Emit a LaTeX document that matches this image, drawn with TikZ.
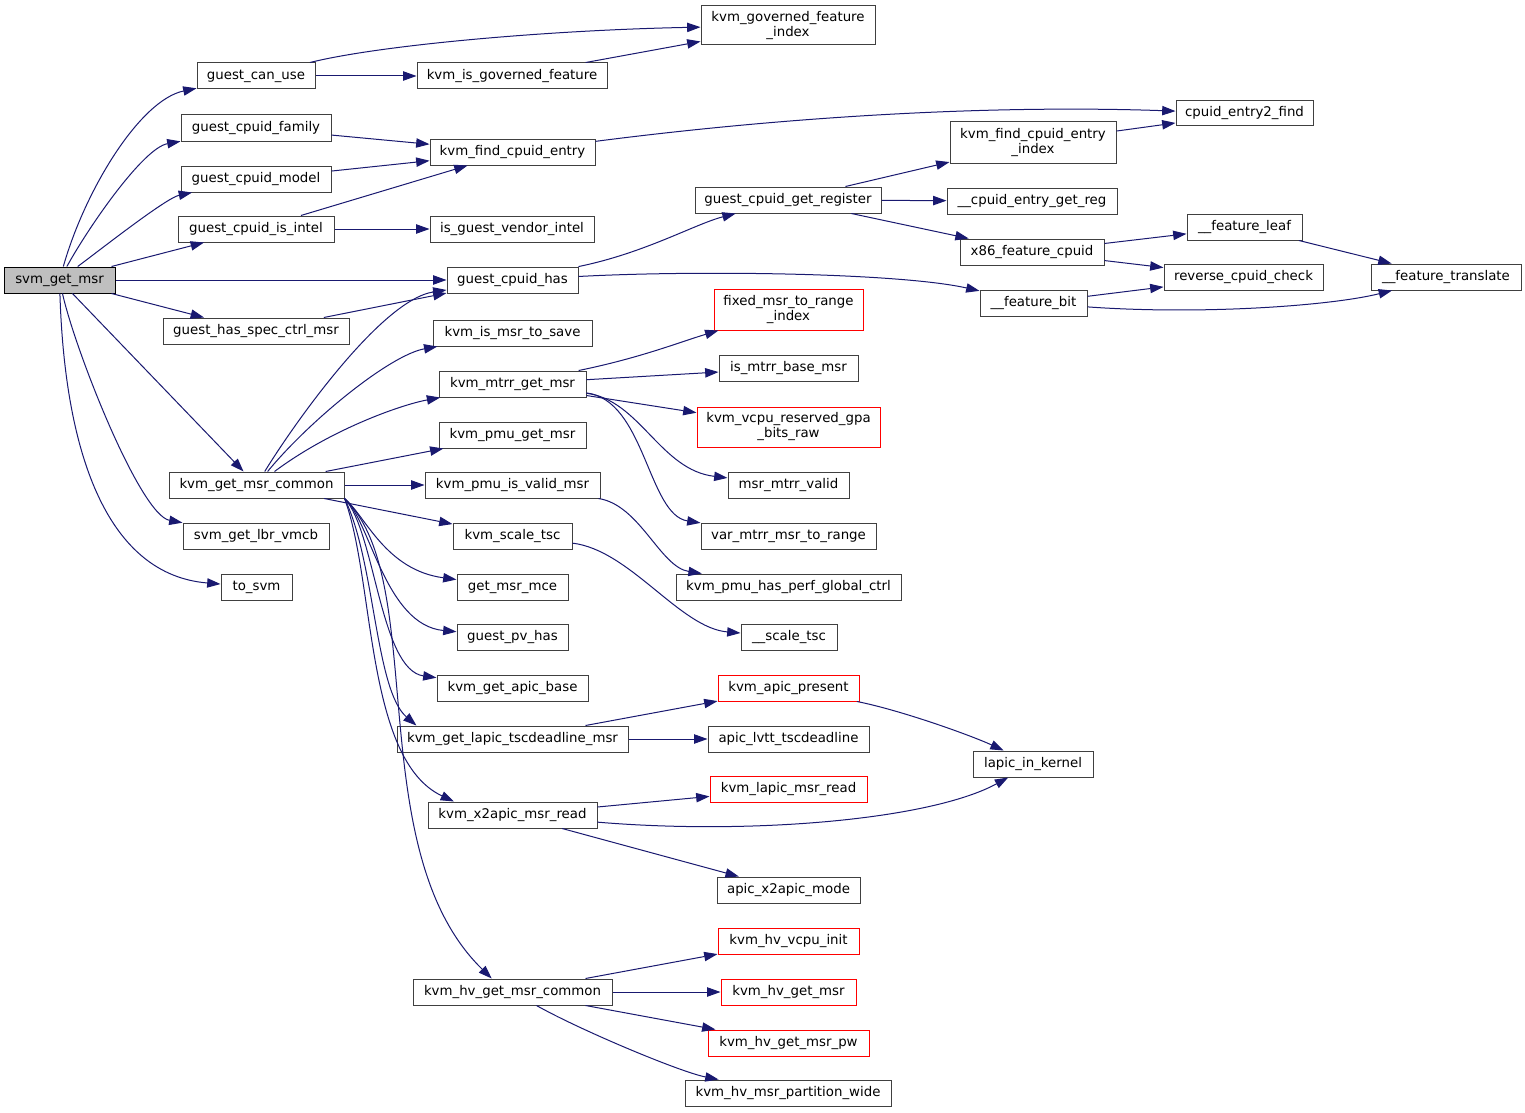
\documentclass[tikz,border=0pt]{standalone}
\usepackage{fontspec}
\setmainfont{DejaVu Sans}
\usetikzlibrary{arrows.meta}
\definecolor{navy}{HTML}{191970}
\definecolor{grey25}{HTML}{404040}
\definecolor{grey75}{HTML}{BFBFBF}
\newcommand\bx[7][]{\node[box,#1,minimum width={(#5-#3)*0.75pt},minimum height={(#6-#4)*0.75pt}] (#2) at ({(#3+#5)/2},{(#4+#6)/2}) {#7};}
\begin{document}
\begin{tikzpicture}[x=0.75pt,y=-0.75pt,
 box/.style={draw=grey25,fill=white,line width=0.75pt,inner sep=0pt,align=center,font=\fontsize{10}{11.25}\selectfont},
 trunc/.style={draw=red},
 root/.style={fill=grey75,draw=black},
 arr/.style={draw=navy,line width=0.75pt,-{Triangle[length=10pt,width=7pt]}}]
\fill[white] (0,0) rectangle (1525,1113);
\useasboundingbox (0,0) rectangle (1525,1113);
% nodes
\bx[root]{svm}{4}{267}{115}{293}{svm\_get\_msr}
\bx{gcu}{197}{63}{315}{89}{guest\_can\_use}
\bx{kgfi}{701}{6}{875}{45}{kvm\_governed\_feature\\\_index}
\bx{kigf}{417}{63}{607}{89}{kvm\_is\_governed\_feature}
\bx{gcf}{181}{115}{331}{141}{guest\_cpuid\_family}
\bx{kfce}{430}{139}{595}{165}{kvm\_find\_cpuid\_entry}
\bx{ce2f}{1176}{101}{1313}{126}{cpuid\_entry2\_find}
\bx{gcm}{181}{166}{331}{192}{guest\_cpuid\_model}
\bx{gcii}{178}{216}{334}{242}{guest\_cpuid\_is\_intel}
\bx{igvi}{430}{216}{594}{242}{is\_guest\_vendor\_intel}
\bx{kfcei}{950}{122}{1116}{163}{kvm\_find\_cpuid\_entry\\\_index}
\bx{gcgr}{695}{187}{881}{213}{guest\_cpuid\_get\_register}
\bx{cegr}{947}{188}{1117}{214}{\_\_cpuid\_entry\_get\_reg}
\bx{fl}{1187}{214}{1302}{240}{\_\_feature\_leaf}
\bx{xfc}{960}{239}{1104}{265}{x86\_feature\_cpuid}
\bx{rcc}{1164}{264}{1323}{290}{reverse\_cpuid\_check}
\bx{ft}{1371}{264}{1521}{290}{\_\_feature\_translate}
\bx{gch}{447}{267}{578}{293}{guest\_cpuid\_has}
\bx{fb}{980}{290}{1087}{316}{\_\_feature\_bit}
\bx{ghscm}{163}{318}{349}{344}{guest\_has\_spec\_ctrl\_msr}
\bx{kims}{433}{320}{592}{346}{kvm\_is\_msr\_to\_save}
\bx[trunc]{fmtri}{714}{289}{863}{330}{fixed\_msr\_to\_range\\\_index}
\bx{imbm}{719}{355}{858}{381}{is\_mtrr\_base\_msr}
\bx{kmgm}{439}{371}{586}{397}{kvm\_mtrr\_get\_msr}
\bx[trunc]{kvrgbr}{697}{407}{880}{447}{kvm\_vcpu\_reserved\_gpa\\\_bits\_raw}
\bx{kpgm}{439}{422}{586}{448}{kvm\_pmu\_get\_msr}
\bx{kgmc}{169}{472}{344}{498}{kvm\_get\_msr\_common}
\bx{kpivm}{425}{472}{600}{498}{kvm\_pmu\_is\_valid\_msr}
\bx{mmv}{728}{472}{849}{498}{msr\_mtrr\_valid}
\bx{sglv}{183}{523}{329}{549}{svm\_get\_lbr\_vmcb}
\bx{kst}{453}{523}{572}{549}{kvm\_scale\_tsc}
\bx{vmmtr}{701}{523}{876}{549}{var\_mtrr\_msr\_to\_range}
\bx{kphpgc}{676}{574}{901}{600}{kvm\_pmu\_has\_perf\_global\_ctrl}
\bx{tosvm}{221}{574}{292}{600}{to\_svm}
\bx{gmm}{457}{574}{568}{600}{get\_msr\_mce}
\bx{st}{741}{624}{837}{650}{\_\_scale\_tsc}
\bx{gpvh}{457}{624}{568}{650}{guest\_pv\_has}
\bx{kgab}{437}{675}{588}{701}{kvm\_get\_apic\_base}
\bx[trunc]{kap}{718}{675}{859}{701}{kvm\_apic\_present}
\bx{kgltm}{397}{726}{628}{752}{kvm\_get\_lapic\_tscdeadline\_msr}
\bx{alt}{708}{726}{869}{752}{apic\_lvtt\_tscdeadline}
\bx{lik}{973}{751}{1093}{777}{lapic\_in\_kernel}
\bx[trunc]{klmr}{710}{776}{867}{802}{kvm\_lapic\_msr\_read}
\bx{kx2mr}{428}{802}{597}{828}{kvm\_x2apic\_msr\_read}
\bx{axm}{717}{877}{860}{903}{apic\_x2apic\_mode}
\bx[trunc]{khvi}{718}{928}{859}{954}{kvm\_hv\_vcpu\_init}
\bx{khgmc}{413}{979}{612}{1005}{kvm\_hv\_get\_msr\_common}
\bx[trunc]{khgm}{721}{979}{856}{1005}{kvm\_hv\_get\_msr}
\bx[trunc]{khgmp}{708}{1030}{869}{1056}{kvm\_hv\_get\_msr\_pw}
\bx{khmpw}{685}{1080}{891}{1106}{kvm\_hv\_msr\_partition\_wide}
% edges
\draw[arr] (svm) .. controls (85,190) and (140,100) .. (gcu);
\draw[arr] (svm) .. controls (88,228) and (143,148) .. (gcf);
\draw[arr] (svm) .. controls (100,250) and (166,198) .. (gcm);
\draw[arr] (svm) -- (gcii);
\draw[arr] (svm) -- (gch);
\draw[arr] (svm) -- (ghscm);
\draw[arr] (svm) -- (kgmc);
\draw[arr] (svm) .. controls (75,350) and (140,515) .. (sglv);
\draw[arr] (svm) .. controls (65,460) and (110,575) .. (tosvm);
\draw[arr] (gcu) .. controls (380,45) and (550,30) .. (kgfi);
\draw[arr] (gcu) -- (kigf);
\draw[arr] (kigf) -- (kgfi);
\draw[arr] (gcf) -- (kfce);
\draw[arr] (gcm) -- (kfce);
\draw[arr] (gcii) -- (kfce);
\draw[arr] (gcii) -- (igvi);
\draw[arr] (kfce) .. controls (800,115) and (1000,105) .. (ce2f);
\draw[arr] (kfcei) -- (ce2f);
\draw[arr] (gcgr) -- (kfcei);
\draw[arr] (gcgr) -- (cegr);
\draw[arr] (gcgr) -- (xfc);
\draw[arr] (xfc) -- (fl);
\draw[arr] (xfc) -- (rcc);
\draw[arr] (fl) -- (ft);
\draw[arr] (fb) -- (rcc);
\draw[arr] (fb) .. controls (1200,315) and (1330,306) .. (ft);
\draw[arr] (gch) .. controls (645,253) and (695,224) .. (gcgr);
\draw[arr] (gch) .. controls (700,270) and (900,273) .. (fb);
\draw[arr] (ghscm) -- (gch);
\draw[arr] (kgmc) .. controls (290,430) and (380,300) .. (gch);
\draw[arr] (kgmc) .. controls (310,420) and (390,355) .. (kims);
\draw[arr] (kgmc) .. controls (330,430) and (400,405) .. (kmgm);
\draw[arr] (kgmc) -- (kpgm);
\draw[arr] (kgmc) -- (kpivm);
\draw[arr] (kgmc) -- (kst);
\draw[arr] (kgmc.south east) .. controls (365,515) and (385,570) .. (gmm);
\draw[arr] (kgmc.south east) .. controls (370,520) and (385,625) .. (gpvh);
\draw[arr] (kgmc.south east) .. controls (375,530) and (380,670) .. (kgab);
\draw[arr] (kgmc.south east) .. controls (375,560) and (375,690) .. (kgltm.172.6);
\draw[arr] (kgmc.south east) .. controls (375,580) and (365,760) .. (kx2mr.167.9);
\draw[arr] (kgmc.south east) .. controls (430,580) and (360,850) .. (khgmc.147.6);
\draw[arr] (kmgm) .. controls (640,358) and (680,342) .. (fmtri);
\draw[arr] (kmgm) -- (imbm);
\draw[arr] (kmgm) -- (kvrgbr);
\draw[arr] (kmgm) .. controls (640,400) and (660,470) .. (mmv);
\draw[arr] (kmgm) .. controls (645,400) and (648,515) .. (vmmtr);
\draw[arr] (kpivm) .. controls (640,505) and (660,567) .. (kphpgc);
\draw[arr] (kst) .. controls (630,550) and (680,628) .. (st);
\draw[arr] (kgltm) -- (kap);
\draw[arr] (kgltm) -- (alt);
\draw[arr] (kap) .. controls (900,710) and (970,735) .. (lik);
\draw[arr] (kx2mr) -- (klmr);
\draw[arr] (kx2mr) .. controls (750,835) and (930,820) .. (lik);
\draw[arr] (kx2mr) -- (axm);
\draw[arr] (khgmc) -- (khvi);
\draw[arr] (khgmc) -- (khgm);
\draw[arr] (khgmc) -- (khgmp);
\draw[arr] (khgmc) .. controls (580,1030) and (680,1072) .. (khmpw);
\end{tikzpicture}
\end{document}
